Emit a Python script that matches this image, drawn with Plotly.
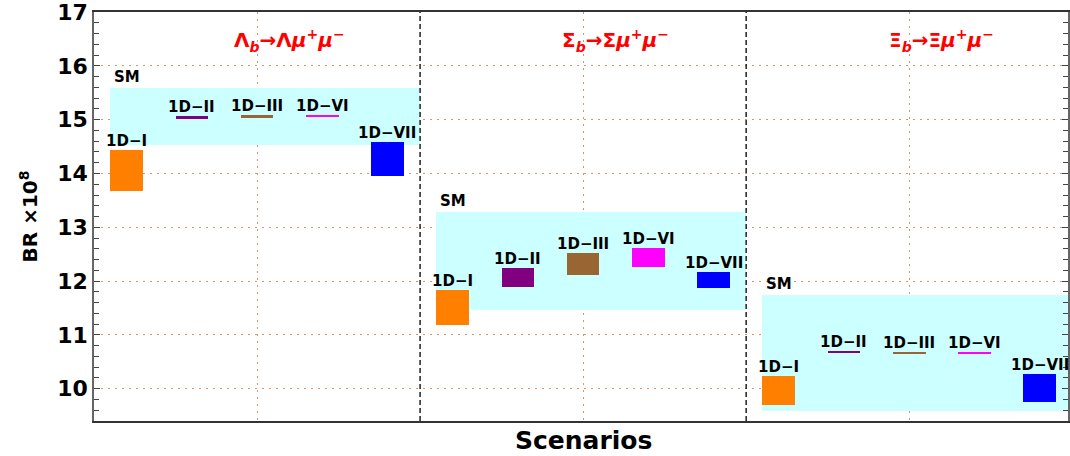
import plotly.graph_objects as go

# Decay channels, one panel each along x (panel i spans x = i .. i+1)
channels = [
    "Λ<sub><i>b</i></sub>→Λ<i>μ</i><sup>+</sup><i>μ</i><sup>−</sup>",
    "Σ<sub><i>b</i></sub>→Σ<i>μ</i><sup>+</sup><i>μ</i><sup>−</sup>",
    "Ξ<sub><i>b</i></sub>→Ξ<i>μ</i><sup>+</sup><i>μ</i><sup>−</sup>",
]

# Standard Model band (BR x 10^8)
sm_low = [14.53, 11.47, 9.59]
sm_high = [15.59, 13.28, 11.74]

# New-physics scenarios: names, colours, positions inside a panel
scenarios = ["1D−I", "1D−II", "1D−III", "1D−VI", "1D−VII"]
scenario_colors = ["#ff8000", "#800080", "#996633", "#ff00ff", "#0000ff"]
scenario_offsets = [0.1, 0.3, 0.5, 0.7, 0.9]

# Ranges per scenario, one entry per channel
low = {
    "1D−I":   [13.68, 11.19, 9.70],
    "1D−II":  [15.025, 11.89, 10.67],
    "1D−III": [15.045, 12.12, 10.655],
    "1D−VI":  [15.055, 12.27, 10.655],
    "1D−VII": [13.96, 11.88, 9.76],
}
high = {
    "1D−I":   [14.43, 11.83, 10.23],
    "1D−II":  [15.06, 12.24, 10.71],
    "1D−III": [15.08, 12.52, 10.69],
    "1D−VI":  [15.09, 12.61, 10.69],
    "1D−VII": [14.58, 12.17, 10.27],
}

separators = [1, 2]
y_ticks = [10, 11, 12, 13, 14, 15, 16, 17]
y_range = [9.4, 17.002]

FONT = "DejaVu Sans"
GRID = "#c89a6e"
fig = go.Figure()

n = len(channels)
panel_x = list(range(n))

# SM bands
fig.add_trace(go.Bar(
    x=[p + 0.525 for p in panel_x],
    y=[h - l for h, l in zip(sm_high, sm_low)],
    base=sm_low,
    width=0.95,
    marker=dict(color="#ccffff", line=dict(width=0)),
    hoverinfo="skip",
    showlegend=False,
))

# Scenario bars
for name, color, off in zip(scenarios, scenario_colors, scenario_offsets):
    fig.add_trace(go.Bar(
        x=[p + off for p in panel_x],
        y=[h - l for h, l in zip(high[name], low[name])],
        base=low[name],
        width=0.1,
        marker=dict(color=color, line=dict(width=0)),
        hoverinfo="skip",
        showlegend=False,
    ))

# Dashed panel separators
for s in separators:
    fig.add_trace(go.Scatter(
        x=[s, s], y=y_range, mode="lines",
        line=dict(color="#111111", width=1.4, dash="5px,3px"),
        hoverinfo="skip", showlegend=False,
    ))

annotations = []
lab_font = dict(family=FONT, size=15, color="black", weight="bold")
for i in panel_x:
    # channel title
    annotations.append(dict(
        x=i + 0.6, y=16.48, xref="x", yref="y", text="<b>" + channels[i] + "</b>",
        showarrow=False, font=dict(family=FONT, size=20, color="red"),
        xanchor="center", yanchor="middle",
    ))
    # SM label
    annotations.append(dict(
        x=i + 0.1, y=sm_high[i], xref="x", yref="y", text="SM",
        showarrow=False, font=lab_font, xanchor="center", yanchor="bottom", yshift=0,
    ))
    for name, off in zip(scenarios, scenario_offsets):
        annotations.append(dict(
            x=i + off, y=high[name][i], xref="x", yref="y", text=name,
            showarrow=False, font=lab_font, xanchor="center", yanchor="bottom", yshift=-2,
        ))

annotations.append(dict(
    x=1.5, y=-0.047, xref="x", yref="paper", text="Scenarios", showarrow=False,
    font=dict(family=FONT, size=25, color="black", weight="bold"),
    xanchor="center", yanchor="middle",
))

fig.update_layout(
    width=1070, height=456,
    margin=dict(l=94, r=0, t=12, b=35),
    paper_bgcolor="white", plot_bgcolor="white",
    barmode="overlay", bargap=0,
    annotations=annotations,
    xaxis=dict(
        range=[0, 2.987],
        tickvals=[0.5, 1.5, 2.5], showticklabels=False, ticks="",
        showgrid=True, gridcolor=GRID, griddash="1.5px,5.5px", gridwidth=1.2,
        showline=True, linecolor="#333333", linewidth=1.5, mirror=True,
        zeroline=False,
    ),
    yaxis=dict(
        range=y_range,
        tickvals=y_ticks,
        tickfont=dict(family=FONT, size=22, color="black", weight="bold"),
        ticklabeloverflow="allow",
        ticks="inside", ticklen=6, tickcolor="#444444", tickwidth=1,
        minor=dict(dtick=0.2, ticks="inside", ticklen=5, tickcolor="#444444", showgrid=False),
        showgrid=True, gridcolor=GRID, griddash="1.5px,5.5px", gridwidth=1.2,
        showline=True, linecolor="#666666", linewidth=1.5, mirror="ticks",
        zeroline=False,
        title=dict(text="<b>BR ×10<sup>8</sup></b>",
                   font=dict(family=FONT, size=20, color="black"), standoff=14),
    ),
)

fig.write_html("out.html")
